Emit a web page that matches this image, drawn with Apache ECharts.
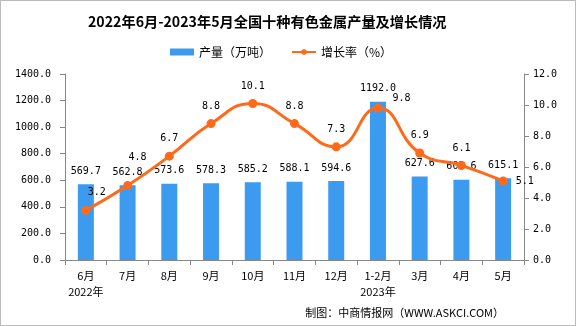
<!DOCTYPE html>
<html><head><meta charset="utf-8">
<script src="https://cdn.jsdelivr.net/npm/echarts@6/dist/echarts.min.js"></script>
<style>html,body{margin:0;padding:0;background:#fff}#c{width:576px;height:326px;box-sizing:border-box;border:1px solid #bbb}</style>
</head><body><div id="c"></div>
<script>
const categories = ['6月\n2022年','7月','8月','9月','10月','11月','12月','1-2月\n2023年','3月','4月','5月'];
const output = [569.7,562.8,573.6,578.3,585.2,588.1,594.6,1192.0,627.6,603.6,615.1];
const growth = [3.2,4.8,6.7,8.8,10.1,8.8,7.3,9.8,6.9,6.1,5.1];
const leftTicks = {min:0,max:1400,interval:200};
const rightTicks = {min:0,max:12,interval:2};

const mono = '"DejaVu Sans Mono","Liberation Mono",monospace';
const cjk = '"Noto Sans CJK SC","Noto Sans",sans-serif';
const chart = echarts.init(document.getElementById('c'));
const lineLabelPos = growth.map((v,i)=> {
  if (i===0) return {position:'top',offset:[11,0]};
  if (i===1) return {position:'top',offset:[10,-11]};
  if (i===7) return {position:'right',offset:[2,-10]};
  if (i===10) return {position:'right',offset:[0,0]};
  return {position:'top'};
});
chart.setOption({
  animation:false,
  title:{text:'2022年6月-2023年5月全国十种有色金属产量及增长情况',left:82,top:9,
    textStyle:{fontFamily:cjk,fontSize:14.2,fontWeight:'bold',color:'#000'}},
  legend:{top:40,left:164,itemGap:20,textStyle:{fontFamily:cjk,fontSize:12,color:'#000'},
    data:[{name:'产量（万吨）',icon:'rect'},{name:'增长率（%）'}],itemWidth:24,itemHeight:7},
  grid:{left:64,right:51,top:73,bottom:65},
  xAxis:{type:'category',data:categories,
    axisLine:{lineStyle:{color:'#888'}},axisTick:{show:true,alignWithLabel:false,length:5,lineStyle:{color:'#888'}},
    axisLabel:{fontFamily:cjk,fontSize:11,color:'#000',lineHeight:16,margin:8,interval:0}},
  yAxis:[
    {type:'value',min:leftTicks.min,max:leftTicks.max,interval:leftTicks.interval,
      axisLine:{show:true,lineStyle:{color:'#888'}},axisTick:{show:true,length:5,lineStyle:{color:'#888'}},splitLine:{show:false},
      axisLabel:{fontFamily:mono,fontSize:10,color:'#000',margin:14,formatter:v=>v.toFixed(1)}},
    {type:'value',min:rightTicks.min,max:rightTicks.max,interval:rightTicks.interval,
      axisLine:{show:true,lineStyle:{color:'#888'}},axisTick:{show:true,length:5,lineStyle:{color:'#888'}},splitLine:{show:false},
      axisLabel:{fontFamily:mono,fontSize:10,color:'#000',margin:9,formatter:v=>v.toFixed(1)}}
  ],
  series:[
    {name:'产量（万吨）',type:'bar',data:output,barWidth:16,itemStyle:{color:'#3D9BEF'},
      label:{show:true,position:'top',distance:8,fontFamily:mono,fontSize:10,color:'#000',formatter:p=>p.value.toFixed(1)}},
    {name:'增长率（%）',type:'line',yAxisIndex:1,smooth:true,
      data:growth.map((v,i)=>({value:v,label:lineLabelPos[i]})),
      symbol:'circle',symbolSize:9,lineStyle:{color:'#FF6A1A',width:3},itemStyle:{color:'#FF6A1A'},
      label:{show:true,position:'top',distance:8,fontFamily:mono,fontSize:10,color:'#000',formatter:p=>p.value.toFixed(1)}}
  ],
  graphic:[{type:'text',right:71,bottom:7,style:{text:'制图：中商情报网（WWW.ASKCI.COM）',fontFamily:cjk,fontSize:11,fill:'#000'}}]
});
</script></body></html>
